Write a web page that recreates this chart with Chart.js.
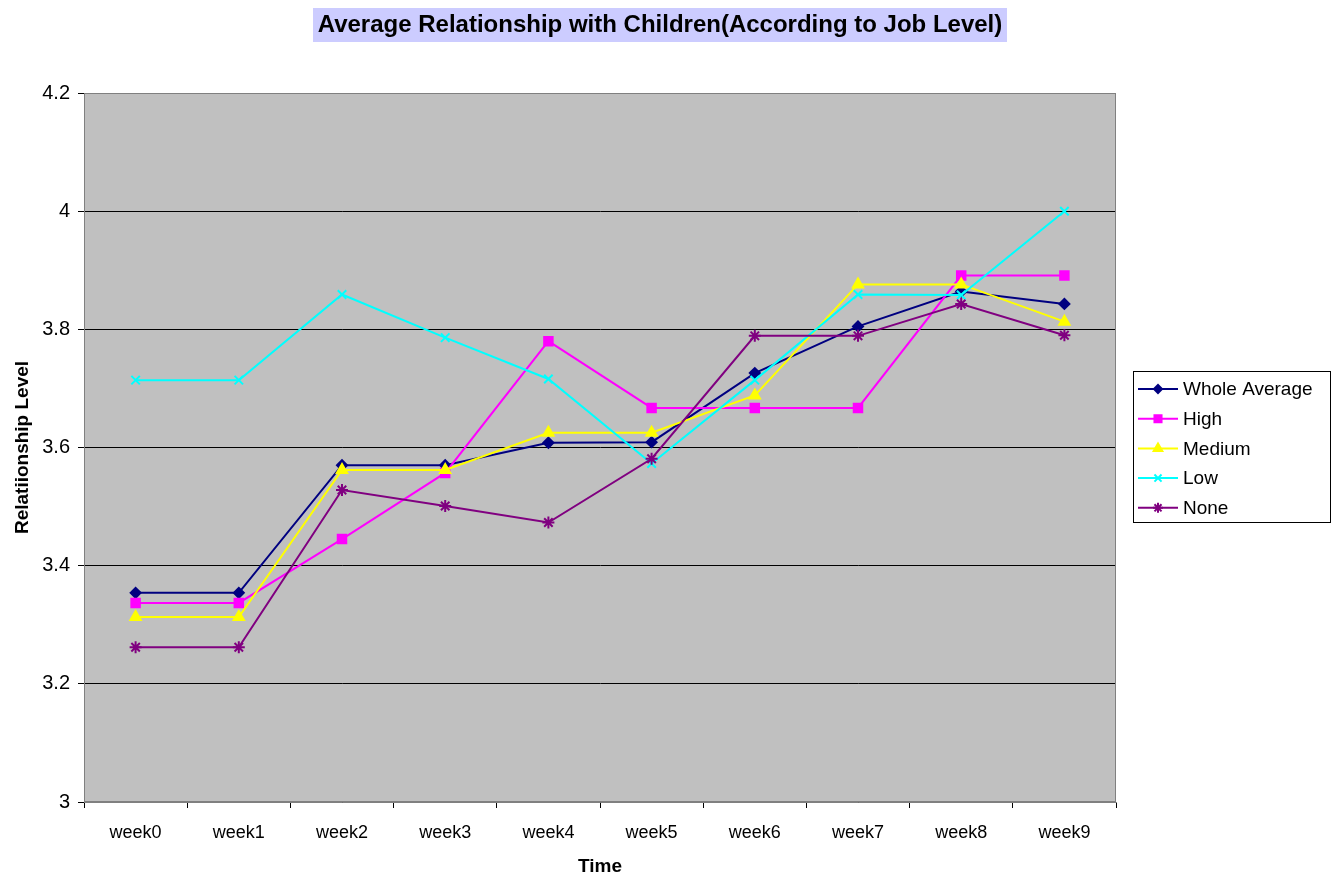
<!DOCTYPE html>
<html>
<head>
<meta charset="utf-8">
<script src="https://cdn.jsdelivr.net/npm/chart.js@4/dist/chart.umd.min.js"></script>
<style>
  html, body { margin: 0; padding: 0; background: #fff; }
  #wrap { width: 1334px; height: 878px; }
</style>
</head>
<body>
<div id="wrap"><canvas id="chart" width="1334" height="878"></canvas></div>
<script>
const weeks = ['week0', 'week1', 'week2', 'week3', 'week4', 'week5', 'week6', 'week7', 'week8', 'week9']

const wholeAverage = [3.354, 3.354, 3.570, 3.570, 3.608, 3.609, 3.726, 3.805, 3.864, 3.843]
const high = [3.337, 3.337, 3.445, 3.557, 3.780, 3.667, 3.667, 3.667, 3.891, 3.891]
const medium = [3.313, 3.313, 3.562, 3.562, 3.625, 3.625, 3.688, 3.876, 3.876, 3.813]
const low = [3.714, 3.714, 3.859, 3.786, 3.716, 3.573, 3.714, 3.859, 3.858, 4.0]
const none = [3.262, 3.262, 3.528, 3.501, 3.473, 3.581, 3.789, 3.789, 3.843, 3.790]

const FONT = 'Arial, "Liberation Sans", sans-serif'

// series look, in Excel's default order
const series = [
  { label: 'Whole Average', data: wholeAverage, color: '#000080', point: 'rectRot', radius: 5 },
  { label: 'High', data: high, color: '#FF00FF', point: 'rect', radius: 6 },
  { label: 'Medium', data: medium, color: '#FFFF00', point: 'triangle', radius: 6 },
  { label: 'Low', data: low, color: '#00FFFF', point: 'crossRot', radius: 6 },
  { label: 'None', data: none, color: '#800080', point: 'star', radius: 6 }
]

// grey plot area with a thin frame
const plotBackground = {
  id: 'plotBackground',
  beforeDraw (chart) {
    const { ctx, chartArea: a } = chart
    ctx.save()
    ctx.fillStyle = '#C0C0C0'
    ctx.fillRect(a.left, a.top, a.right - a.left, a.bottom - a.top)
    ctx.restore()
  },
  afterDatasetsDraw (chart) {
    const { ctx, chartArea: a } = chart
    ctx.save()
    ctx.strokeStyle = '#808080'
    ctx.lineWidth = 1
    ctx.strokeRect(a.left + 0.5, a.top + 0.5, a.right - a.left - 1, a.bottom - a.top - 1)
    ctx.restore()
  }
}

// title on a lavender band and a boxed legend on the right
const chrome = {
  id: 'chrome',
  afterDraw (chart) {
    const ctx = chart.ctx
    ctx.save()
    ctx.fillStyle = '#CCCCFF'
    ctx.fillRect(313, 8, 694, 34)
    ctx.fillStyle = '#000'
    ctx.font = 'bold 24px ' + FONT
    ctx.textAlign = 'center'
    ctx.textBaseline = 'middle'
    ctx.fillText('Average Relationship with Children(According to Job Level)', 660, 25)

    ctx.fillStyle = '#fff'
    ctx.fillRect(1133, 371, 198, 152)
    ctx.strokeStyle = '#000'
    ctx.lineWidth = 1
    ctx.strokeRect(1133.5, 371.5, 197, 151)

    ctx.font = '19px ' + FONT
    ctx.textAlign = 'left'
    series.forEach((s, i) => {
      const y = 389 + i * 29.7
      ctx.strokeStyle = s.color
      ctx.lineWidth = 2
      ctx.beginPath()
      ctx.moveTo(1138, y)
      ctx.lineTo(1178, y)
      ctx.stroke()
      ctx.fillStyle = s.color
      Chart.helpers.drawPoint(ctx, { pointStyle: s.point, radius: s.radius - 1, borderWidth: 2 }, 1158, y)
      ctx.fillStyle = '#000'
      ctx.fillText(s.label, 1183, y + 1)
    })
    ctx.restore()
  }
}

const datasets = series.map((s, i) => ({
  label: s.label,
  data: s.data,
  borderColor: s.color,
  backgroundColor: s.color,
  borderWidth: 2,
  pointStyle: s.point,
  pointRadius: s.radius,
  pointBorderWidth: 2,
  pointBorderColor: s.color,
  pointBackgroundColor: s.color,
  tension: 0,
  order: series.length - 1 - i
}))

new Chart(document.getElementById('chart').getContext('2d'), {
  type: 'line',
  data: { labels: weeks, datasets },
  options: {
    responsive: false,
    animation: false,
    devicePixelRatio: 1,
    layout: { padding: { left: 0, top: 93, right: 218, bottom: 0 } },
    plugins: {
      legend: { display: false },
      title: { display: false },
      tooltip: { enabled: false }
    },
    scales: {
      x: {
        type: 'category',
        offset: true,
        afterFit: s => { s.height = 76 },
        grid: {
          offset: true,
          drawOnChartArea: false,
          color: '#000',
          tickLength: 6
        },
        border: { color: '#808080' },
        ticks: {
          color: '#000',
          font: { family: FONT, size: 18 },
          padding: 14,
          maxRotation: 0
        },
        title: {
          display: true,
          text: 'Time',
          color: '#000',
          font: { family: FONT, size: 19, weight: 'bold' },
          padding: { top: 0, bottom: 0 }
        }
      },
      y: {
        min: 3,
        max: 4.2,
        afterFit: s => { s.width = 84 },
        grid: {
          color: '#000',
          tickLength: 6
        },
        border: { color: '#808080' },
        ticks: {
          stepSize: 0.2,
          color: '#000',
          font: { family: FONT, size: 20 },
          padding: 8,
          callback: v => String(Number(v.toFixed(1)))
        },
        title: {
          display: true,
          text: 'Relatiionship Level',
          color: '#000',
          font: { family: FONT, size: 19, weight: 'bold' },
          padding: { top: 11, bottom: 0 }
        }
      }
    }
  },
  plugins: [plotBackground, chrome]
})
</script>
</body>
</html>
